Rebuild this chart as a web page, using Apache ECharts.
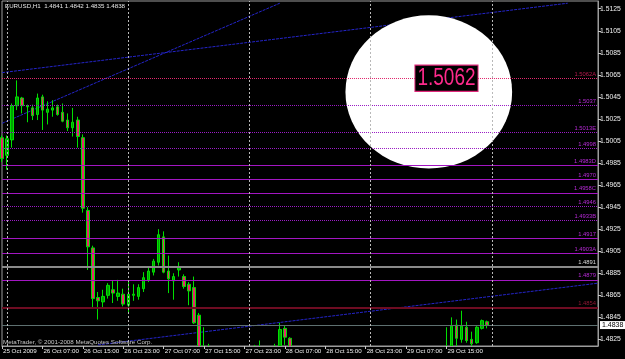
<!DOCTYPE html>
<html>
<head>
<meta charset="utf-8">
<script src="https://cdn.jsdelivr.net/npm/echarts@6/dist/echarts.min.js"></script>
<style>
  html, body { margin: 0; padding: 0; background: #000; }
  #chart { width: 625px; height: 359px; }
</style>
</head>
<body>
<div id="chart"></div>
<script>
const symbolName = 'EURUSD,H1'
const copyright = 'MetaTrader, © 2001-2008 MetaQuotes Software Corp.'

// hourly bars, first bar 25 Oct 2009 23:00, chart keeps empty room on the right
const firstBarUtc = Date.UTC(2009, 9, 25, 23)
const slotCount = 119

// one label every 8 bars
const timeLabels = [
  '25 Oct 2009', '26 Oct 07:00', '26 Oct 15:00', '26 Oct 23:00', '27 Oct 07:00',
  '27 Oct 15:00', '27 Oct 23:00', '28 Oct 07:00', '28 Oct 15:00', '28 Oct 23:00',
  '29 Oct 07:00', '29 Oct 15:00', '29 Oct 23:00'
]

const priceTicks = [
  1.4825, 1.4845, 1.4865, 1.4885, 1.4905, 1.4925, 1.4945, 1.4965,
  1.4985, 1.5005, 1.5025, 1.5045, 1.5065, 1.5085, 1.5105, 1.5125
]

// [open, close, low, high]; null = bar lies fully below the visible price range
const candles = [
  [1.5008, 1.4989, 1.4986, 1.5010], [1.4992, 1.5007, 1.4979, 1.5010],
  [1.5006, 1.5037, 1.4999, 1.5039], [1.5037, 1.5045, 1.5033, 1.5060],
  [1.5044, 1.5037, 1.5030, 1.5045], [1.5036, 1.5037, 1.5022, 1.5038],
  [1.5035, 1.5028, 1.5024, 1.5038], [1.5029, 1.5044, 1.5024, 1.5048],
  [1.5045, 1.5033, 1.5015, 1.5047], [1.5031, 1.5034, 1.5020, 1.5041],
  [1.5033, 1.5035, 1.5027, 1.5042], [1.5036, 1.5029, 1.5028, 1.5038],
  [1.5031, 1.5023, 1.5022, 1.5039], [1.5024, 1.5017, 1.5014, 1.5030],
  [1.5017, 1.5022, 1.5009, 1.5035], [1.5024, 1.5009, 1.4999, 1.5027],
  [1.5008, 1.4944, 1.4940, 1.5011], [1.4942, 1.4909, 1.4888, 1.4945],
  [1.4908, 1.4862, 1.4854, 1.4910], [1.4863, 1.4860, 1.4843, 1.4868],
  [1.4859, 1.4864, 1.4853, 1.4870], [1.4865, 1.4874, 1.4862, 1.4876],
  [1.4870, 1.4867, 1.4858, 1.4878], [1.4864, 1.4867, 1.4860, 1.4879],
  [1.4866, 1.4857, 1.4855, 1.4871], [1.4856, 1.4866, 1.4849, 1.4877],
  [1.4865, 1.4866, 1.4860, 1.4875], [1.4864, 1.4872, 1.4861, 1.4875],
  [1.4871, 1.4881, 1.4868, 1.4886], [1.4879, 1.4887, 1.4877, 1.4890],
  [1.4886, 1.4896, 1.4883, 1.4898], [1.4895, 1.4920, 1.4892, 1.4925],
  [1.4918, 1.4886, 1.4885, 1.4923], [1.4887, 1.4880, 1.4867, 1.4901],
  [1.4878, 1.4882, 1.4861, 1.4885], [1.4888, 1.4890, 1.4882, 1.4895],
  [1.4882, 1.4873, 1.4871, 1.4884], [1.4875, 1.4869, 1.4856, 1.4877],
  [1.4872, 1.4840, 1.4839, 1.4882], [1.4847, 1.4808, 1.4800, 1.4849],
  [1.4810, 1.4798, 1.4790, 1.4836], [1.4800, 1.4795, 1.4785, 1.4821],
  null, null, null, null, null, null, null,
  [1.4805, 1.4812, 1.4798, 1.4820], [1.4812, 1.4808, 1.4800, 1.4820],
  [1.4808, 1.4815, 1.4803, 1.4824],
  null, null,
  [1.4806, 1.4814, 1.4800, 1.4821], [1.4814, 1.4834, 1.4810, 1.4840],
  [1.4835, 1.4827, 1.4820, 1.4838], [1.4826, 1.4812, 1.4806, 1.4827],
  null, null, null, null, null, null, null, null, null, null,
  null, null, null, null, null, null, null, null, null, null,
  null, null, null, null, null, null, null, null, null, null,
  [1.4800, 1.4815, 1.4795, 1.4836], [1.4815, 1.4837, 1.4812, 1.4845],
  [1.4838, 1.4826, 1.4818, 1.4843], [1.4825, 1.4837, 1.4822, 1.4851],
  [1.4836, 1.4824, 1.4822, 1.4841], [1.4825, 1.4821, 1.4817, 1.4832],
  [1.4822, 1.4836, 1.4821, 1.4837], [1.4835, 1.4842, 1.4834, 1.4843],
  [1.4841, 1.4838, 1.4835, 1.4842]
]

// horizontal levels drawn on the chart
const levelPrices = [1.5062, 1.5037, 1.5013, 1.4998, 1.4983, 1.4970, 1.4958, 1.4946, 1.4933, 1.4917, 1.4903, 1.4891, 1.4879, 1.4854]
const levelTags = ['A', '', 'E', '', 'D', '', 'C', '', 'B', '', 'A', '', '', '']
const bidPrice = 1.4838

// trend lines: [barIndex, price] end points
const trendLines = [
  [[0, 1.5067], [112, 1.5130]],
  [[0, 1.5021], [55, 1.5130]],
  [[19, 1.4820], [118, 1.4876]]
]

// magnifier glass: bar span and price span
const glassBars = [68, 101]
const glassPrices = [1.5119, 1.4980]
const glassLabelBar = 88

const FONT = '"Liberation Sans", Arial, sans-serif'
const Y_MIN = 1.4819
const Y_MAX = 1.5132

const months = ['Jan', 'Feb', 'Mar', 'Apr', 'May', 'Jun', 'Jul', 'Aug', 'Sep', 'Oct', 'Nov', 'Dec']
const slots = []
const dayStarts = []
for (let i = 0; i < slotCount; i++) {
  const d = new Date(firstBarUtc + i * 3600e3)
  const hh = String(d.getUTCHours()).padStart(2, '0')
  slots.push(`${d.getUTCDate()} ${months[d.getUTCMonth()]} ${hh}:00`)
  if (d.getUTCHours() === 0 && i < candles.length + 1) dayStarts.push(i)
}

const labelEvery = 8
const showTimeLabel = idx => idx % labelEvery === 0 && idx / labelEvery < timeLabels.length

const levelLook = [
  'pivot', 'dot', 'dot', 'dot', 'solid', 'solid', 'solid',
  'dot', 'dot', 'solid', 'solid', 'gray', 'solid', 'maroon'
]
const looks = {
  pivot: { line: '#e0286e', type: [1, 1], width: 1, text: '#b8184e' },
  dot: { line: '#9a1cc4', type: [1, 1], width: 1, text: '#b82ad8' },
  solid: { line: '#a316c2', type: 'solid', width: 1, text: '#b82ad8' },
  gray: { line: '#8a8a8a', type: 'solid', width: 2, text: '#d8d8d8' },
  maroon: { line: '#6e0c22', type: 'solid', width: 2, text: '#901634' }
}

const levelMarks = levelPrices.map((p, k) => {
  const look = looks[levelLook[k]]
  return {
    yAxis: p,
    lineStyle: { color: look.line, type: look.type, width: look.width },
    label: {
      show: true,
      position: 'insideEndTop',
      distance: [2, 1],
      formatter: p.toFixed(4) + levelTags[k],
      color: look.text,
      fontSize: 5.8,
      fontFamily: FONT
    }
  }
})

const bidMark = {
  yAxis: bidPrice,
  lineStyle: { color: '#5e7070', type: 'solid', width: 1 },
  label: {
    show: true,
    position: 'end',
    distance: 2,
    formatter: bidPrice.toFixed(4),
    color: '#000',
    backgroundColor: '#fff',
    padding: [1, 2, 0, 2],
    fontSize: 7,
    fontFamily: FONT
  }
}

const dayMarks = dayStarts.map(i => ({
  xAxis: i,
  lineStyle: { color: '#b8b8b8', type: [2, 2], width: 1 },
  label: { show: false }
}))

const last = candles[candles.length - 1]
const titleText = `${symbolName}  ${[last[0], last[3], last[2], last[1]].map(v => v.toFixed(4)).join(' ')}`
const glassAnchor = [Math.round((glassBars[0] + glassBars[1]) / 2), (glassPrices[0] + glassPrices[1]) / 2]

const chart = echarts.init(document.getElementById('chart'))

chart.setOption({
  animation: false,
  backgroundColor: '#000',
  title: {
    text: titleText,
    left: 5,
    top: 3,
    padding: 0,
    textStyle: { color: '#e6e6e6', fontSize: 6.2, fontWeight: 'normal', fontFamily: FONT }
  },
  grid: {
    left: 2,
    right: 27,
    top: 1,
    bottom: 13,
    show: true,
    borderColor: '#9c9c9c',
    borderWidth: 1
  },
  xAxis: {
    type: 'category',
    data: slots,
    boundaryGap: false,
    z: 10,
    axisLine: { lineStyle: { color: '#9c9c9c', width: 1 } },
    axisTick: { show: true, interval: showTimeLabel, length: 3, lineStyle: { color: '#c8c8c8' } },
    axisLabel: {
      interval: showTimeLabel,
      formatter: (v, idx) => timeLabels[idx / labelEvery],
      align: 'left',
      margin: 2,
      padding: [0, 0, 0, 1],
      color: '#f0f0f0',
      fontSize: 6.2,
      fontFamily: FONT,
      showMaxLabel: false
    },
    splitLine: { show: false }
  },
  yAxis: {
    type: 'value',
    position: 'right',
    min: Y_MIN,
    max: Y_MAX,
    z: 10,
    axisLine: { show: true, lineStyle: { color: '#9c9c9c' } },
    axisTick: { show: true, customValues: priceTicks, length: 3, lineStyle: { color: '#c8c8c8' } },
    axisLabel: {
      customValues: priceTicks,
      formatter: v => v.toFixed(4),
      margin: 2,
      color: '#f0f0f0',
      fontSize: 6.8,
      fontFamily: FONT
    },
    splitLine: { show: false }
  },
  series: [{
    type: 'lines',
    coordinateSystem: 'cartesian2d',
    z: 1,
    silent: true,
    lineStyle: { color: '#2424c8', type: [3, 1], width: 1, opacity: 1 },
    data: trendLines.map(coords => ({ coords }))
  }, {
    // magnifier glass disc, sized after the first layout
    type: 'scatter',
    z: 1.5,
    silent: true,
    symbol: 'circle',
    symbolSize: 1,
    itemStyle: { color: '#ffffff', opacity: 1 },
    data: [glassAnchor]
  }, {
    type: 'candlestick',
    z: 2,
    data: candles.map(c => c || ['-', '-', '-', '-']),
    barWidth: 3,
    clip: true,
    itemStyle: {
      color: '#00a000',
      color0: '#e8286a',
      borderColor: '#00e000',
      borderColor0: '#00e000',
      borderColorDoji: '#00e000',
      borderWidth: 1
    },
    markLine: {
      silent: true,
      zlevel: 1,
      z: 6,
      precision: 5,
      symbol: ['none', 'none'],
      animation: false,
      data: [...levelMarks, bidMark, ...dayMarks]
    }
  }]
})

// overlays placed through the chart's own scales
const px = v => chart.convertToPixel({ gridIndex: 0 }, v)
const topLeft = px([glassBars[0], glassPrices[0]])
const bottomRight = px([glassBars[1], glassPrices[1]])
const anchorPx = px(glassAnchor)
const tag = px([glassLabelBar, levelPrices[0]])
const plotLeftBottom = px([0, Y_MIN])
const plotRight = px([slotCount - 1, Y_MIN])[0]

chart.setOption({
  series: [{}, {
    symbolSize: [bottomRight[0] - topLeft[0], bottomRight[1] - topLeft[1]],
    symbolOffset: [(topLeft[0] + bottomRight[0]) / 2 - anchorPx[0], (topLeft[1] + bottomRight[1]) / 2 - anchorPx[1]]
  }, {}],
  graphic: [{
    // candles below the price range are hidden under the time scale strip
    type: 'rect',
    shape: { x: 0, y: plotLeftBottom[1], width: plotRight, height: 359 - plotLeftBottom[1] },
    style: { fill: '#000' },
    z: 8,
    silent: true
  }, {
    type: 'text',
    x: tag[0],
    y: tag[1],
    zlevel: 1,
    z: 20,
    scaleY: 1.25,
    silent: true,
    style: {
      text: levelPrices[0].toFixed(4),
      fill: '#ff2a8c',
      font: `19px ${FONT}`,
      align: 'center',
      verticalAlign: 'middle',
      backgroundColor: '#000',
      borderColor: '#e0287a',
      borderWidth: 1,
      padding: [1, 2, 0, 2]
    }
  }, {
    type: 'text',
    x: plotLeftBottom[0] + 1,
    y: plotLeftBottom[1] - 1,
    z: 20,
    silent: true,
    style: {
      text: copyright,
      fill: '#c8c8c8',
      font: `6.2px ${FONT}`,
      align: 'left',
      verticalAlign: 'bottom'
    }
  }]
})
</script>
</body>
</html>
